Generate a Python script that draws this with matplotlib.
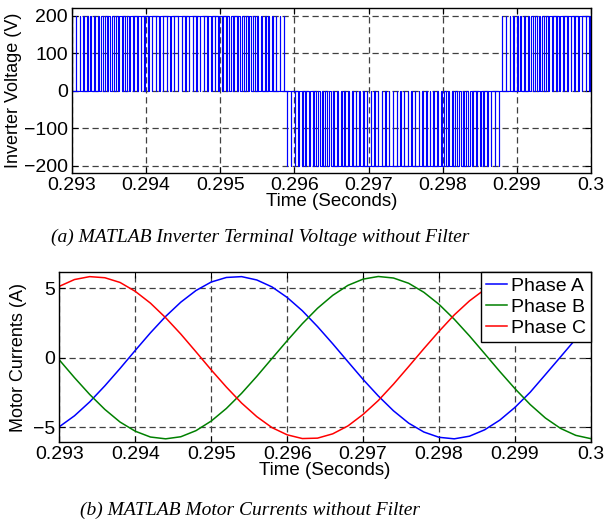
import numpy as np
import matplotlib
matplotlib.use("Agg")
import matplotlib.pyplot as plt

# --- inverter terminal voltage (PWM), one pulse per carrier period ---
pwm_start = 0.29298          # start of first positive half-cycle (s)
carrier_period = 0.00005     # 20 kHz carrier
dc_level = 200               # DC link voltage (V)
# duty of each pulse across one half-cycle
half_duty = [0.03, 0.08, 0.13, 0.18, 0.23, 0.28, 0.33, 0.38, 0.42, 0.47,
             0.51, 0.55, 0.60, 0.63, 0.67, 0.71, 0.74, 0.77, 0.80, 0.83,
             0.85, 0.87, 0.89, 0.91, 0.92, 0.93, 0.94, 0.95, 0.95,
             0.95, 0.95, 0.94, 0.93, 0.92, 0.91, 0.89, 0.87, 0.85, 0.83,
             0.80, 0.77, 0.74, 0.71, 0.67, 0.63, 0.60, 0.55, 0.51, 0.47,
             0.42, 0.38, 0.33, 0.28, 0.23, 0.18, 0.13, 0.08, 0.03]
half_sign = [1, -1, 1]
half_pulses = [58, 58, 26]

# --- motor phase currents, sampled every 0.2 ms ---
t_current = [0.2930, 0.2932, 0.2934, 0.2936, 0.2938, 0.2940, 0.2942, 0.2944,
             0.2946, 0.2948, 0.2950, 0.2952, 0.2954, 0.2956, 0.2958, 0.2960,
             0.2962, 0.2964, 0.2966, 0.2968, 0.2970, 0.2972, 0.2974, 0.2976,
             0.2978, 0.2980, 0.2982, 0.2984, 0.2986, 0.2988, 0.2990, 0.2992,
             0.2994, 0.2996, 0.2998, 0.3000]
phase_a = [-4.98, -4.19, -3.19, -2.03, -0.78, 0.52, 1.79, 2.97, 4.00, 4.84,
           5.45, 5.78, 5.84, 5.60, 5.10, 4.34, 3.38, 2.24, 1.00, -0.29,
           -1.57, -2.76, -3.83, -4.72, -5.36, -5.74, -5.85, -5.66, -5.20, -4.50,
           -3.58, -2.49, -1.22, 0.06, 1.35, 2.57]
phase_b = [-0.16, -1.44, -2.65, -3.73, -4.64, -5.30, -5.72, -5.85, -5.70, -5.26,
           -4.57, -3.66, -2.57, -1.35, -0.06, 1.22, 2.45, 3.56, 4.49, 5.21,
           5.66, 5.85, 5.74, 5.36, 4.71, 3.84, 2.77, 1.57, 0.29, -1.00,
           -2.24, -3.38, -4.35, -5.10, -5.60, -5.84]
phase_c = [5.14, 5.63, 5.84, 5.76, 5.42, 4.78, 3.93, 2.88, 1.70, 0.42,
           -0.88, -2.12, -3.27, -4.25, -5.04, -5.56, -5.83, -5.80, -5.49, -4.92,
           -4.09, -3.09, -1.91, -0.64, 0.65, 1.90, 3.08, 4.09, 4.91, 5.50,
           5.82, 5.87, 5.57, 5.04, 4.25, 3.27]
phase_labels = ["Phase A", "Phase B", "Phase C"]

x_ticks = [0.293, 0.294, 0.295, 0.296, 0.297, 0.298, 0.299, 0.3]
x_tick_labels = ["0.293", "0.294", "0.295", "0.296", "0.297", "0.298", "0.299", "0.3"]
v_ticks = [-200, -100, 0, 100, 200]
i_ticks = [-5, 0, 5]

plt.rcParams['font.family'] = ['Liberation Sans', 'DejaVu Sans']


def build_pwm():
    """Turn the per-pulse duty list into a step waveform."""
    t, v = [], []
    k = 0
    for sign, count in zip(half_sign, half_pulses):
        for j in range(count):
            t0 = pwm_start + k * carrier_period
            mid = t0 + carrier_period / 2
            w = half_duty[j] * carrier_period / 2
            t += [t0, mid - w, mid - w, mid + w, mid + w]
            v += [0, 0, sign * dc_level, sign * dc_level, 0]
            k += 1
    return np.array(t), np.array(v)


def style_axes(ax):
    ax.set_xlim(0.293, 0.3)
    ax.set_xticks(x_ticks)
    ax.set_xticklabels(x_tick_labels)
    ax.tick_params(direction='in', length=4, width=0.8, top=True, right=True,
                   labelsize=14, pad=3)
    ax.grid(True, color='0.25', linestyle=(0, (5, 3)), linewidth=0.9)
    for s in ax.spines.values():
        s.set_linewidth(1.0)


fig = plt.figure(figsize=(6.08, 5.23), dpi=100)

# (a) inverter voltage
ax1 = fig.add_axes([0.1184, 0.6692, 0.972 - 0.1184, 0.9847 - 0.6692])
tv, vv = build_pwm()
ax1.plot(tv, vv, color=(0, 0, 1), linewidth=0.8)
style_axes(ax1)
ax1.set_ylim(-220, 220)
ax1.set_yticks(v_ticks)
ax1.set_xlabel('Time (Seconds)', fontsize=13.5, labelpad=-1)
ax1.set_ylabel('Inverter Voltage (V)', fontsize=13, labelpad=1)

# (b) motor currents
ax2 = fig.add_axes([0.0975, 0.1543, 0.972 - 0.0975, 0.4793 - 0.1543])
colors = [(0, 0, 1), (0, 0.5, 0), (1, 0, 0)]
for vals, lab, col in zip([phase_a, phase_b, phase_c], phase_labels, colors):
    ax2.plot(t_current, vals, color=col, linewidth=1.1, label=lab)
style_axes(ax2)
ax2.set_ylim(-6.1, 6.15)
ax2.set_yticks(i_ticks)
ax2.set_xlabel('Time (Seconds)', fontsize=13.5, labelpad=-1)
ax2.set_ylabel('Motor Currents (A)', fontsize=13, labelpad=4)
leg = ax2.legend(loc='upper right', fontsize=14, fancybox=False, framealpha=1,
                 edgecolor='black', borderaxespad=0, handlelength=1.1,
                 handletextpad=0.2, labelspacing=0.18, borderpad=0.25)
leg.get_frame().set_linewidth(1.0)

# captions
fig.text(260 / 608, 1 - 237 / 523, '(a) MATLAB Inverter Terminal Voltage without Filter',
         ha='center', va='center', fontsize=14, style='italic',
         family=['Liberation Serif'])
fig.text(250 / 608, 1 - 510 / 523, '(b) MATLAB Motor Currents without Filter',
         ha='center', va='center', fontsize=14, style='italic',
         family=['Liberation Serif'])

fig.savefig('out.png', dpi=100)
